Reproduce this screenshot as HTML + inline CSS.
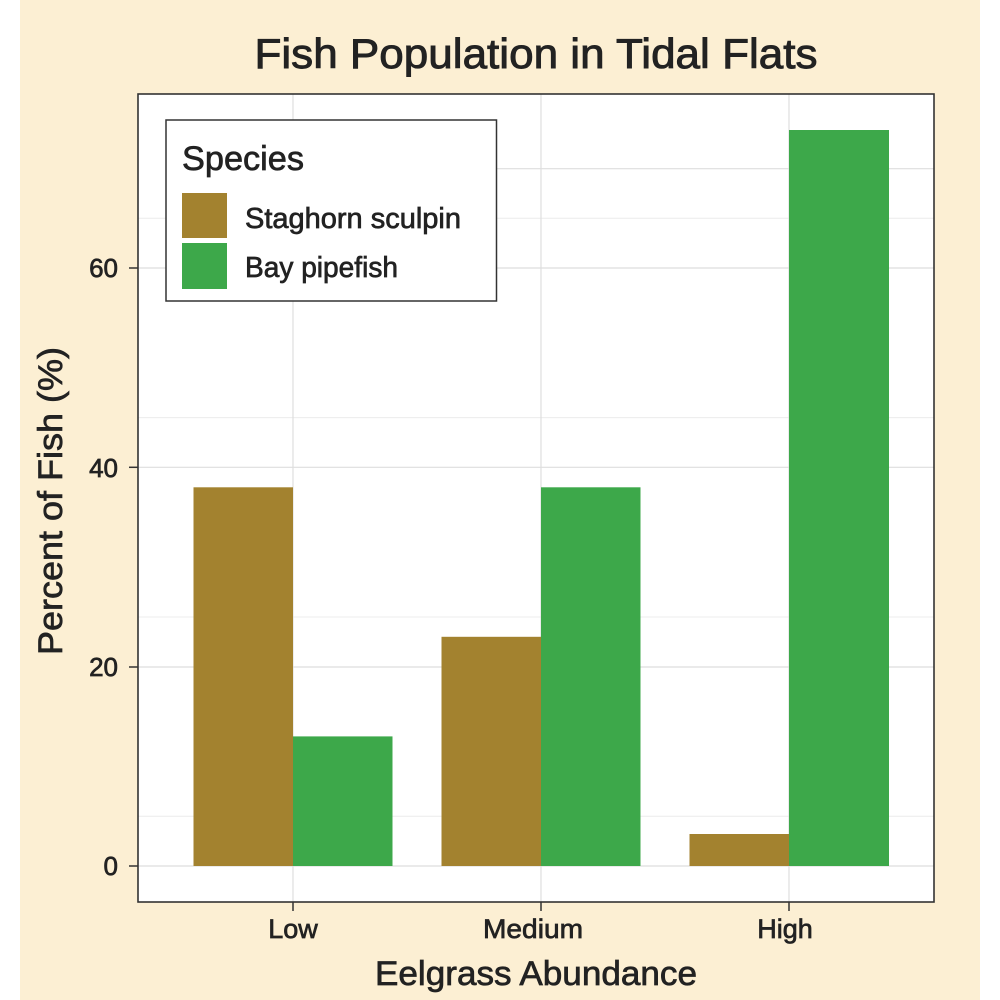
<!DOCTYPE html>
<html>
<head>
<meta charset="utf-8">
<style>
  html, body { margin: 0; padding: 0; background: #ffffff; }
  svg { display: block; }
  text { font-family: "Liberation Sans", "DejaVu Sans", sans-serif; fill: #222222; stroke: #222222; stroke-width: 0.7; paint-order: stroke; }
</style>
</head>
<body>
<svg width="1000" height="1000" viewBox="0 0 1000 1000" xmlns="http://www.w3.org/2000/svg">
  <rect x="0" y="0" width="1000" height="1000" fill="#ffffff"/>
  <rect x="20" y="0" width="960" height="1000" fill="#FCEFD3"/>

  <!-- Title -->
  <text x="536" y="68" font-size="42" text-anchor="middle" textLength="563" lengthAdjust="spacingAndGlyphs" style="stroke-width:0.9">Fish Population in Tidal Flats</text>

  <!-- Panel -->
  <rect x="138" y="94" width="796" height="808" fill="#ffffff"/>

  <!-- minor grid -->
  <g stroke="#ececec" stroke-width="1">
    <line x1="138" x2="934" y1="816.2" y2="816.2"/>
    <line x1="138" x2="934" y1="617.0" y2="617.0"/>
    <line x1="138" x2="934" y1="417.6" y2="417.6"/>
    <line x1="138" x2="934" y1="218.3" y2="218.3"/>
  </g>
  <!-- major grid -->
  <g stroke="#dedede" stroke-width="1.2">
    <line x1="138" x2="934" y1="866" y2="866"/>
    <line x1="138" x2="934" y1="667" y2="667"/>
    <line x1="138" x2="934" y1="467.3" y2="467.3"/>
    <line x1="138" x2="934" y1="268" y2="268"/>
    <line x1="168.5" x2="934" y1="168.7" y2="168.7"/>
    <line x1="293" x2="293" y1="94" y2="902"/>
    <line x1="541" x2="541" y1="94" y2="902"/>
    <line x1="789" x2="789" y1="94" y2="902"/>
  </g>

  <!-- Bars -->
  <g>
    <rect x="193.5" y="487.3" width="99.5" height="378.7" fill="#A3822F"/>
    <rect x="293" y="736.4" width="99.5" height="129.6" fill="#3DA84A"/>
    <rect x="441.5" y="636.8" width="99.5" height="229.2" fill="#A3822F"/>
    <rect x="541" y="487.3" width="99.5" height="378.7" fill="#3DA84A"/>
    <rect x="689.5" y="834" width="99.5" height="32" fill="#A3822F"/>
    <rect x="789" y="130" width="100" height="736" fill="#3DA84A"/>
  </g>

  <!-- Legend -->
  <rect x="166" y="120" width="330.5" height="181" fill="#ffffff" stroke="#333333" stroke-width="1.5"/>
  <text x="182" y="170" font-size="34" textLength="122" lengthAdjust="spacingAndGlyphs">Species</text>
  <rect x="182" y="193" width="45" height="45" fill="#A3822F"/>
  <rect x="182" y="243" width="45" height="46" fill="#3DA84A"/>
  <text x="245" y="228" font-size="29" textLength="216" lengthAdjust="spacingAndGlyphs">Staghorn sculpin</text>
  <text x="245" y="277" font-size="29" textLength="153" lengthAdjust="spacingAndGlyphs">Bay pipefish</text>

  <!-- Panel border -->
  <rect x="138" y="94" width="796" height="808" fill="none" stroke="#333333" stroke-width="1.6"/>

  <!-- ticks -->
  <g stroke="#333333" stroke-width="1.5">
    <line x1="129" x2="138" y1="866" y2="866"/>
    <line x1="129" x2="138" y1="667" y2="667"/>
    <line x1="129" x2="138" y1="467.3" y2="467.3"/>
    <line x1="129" x2="138" y1="268" y2="268"/>
    <line x1="293" x2="293" y1="902" y2="911"/>
    <line x1="541" x2="541" y1="902" y2="911"/>
    <line x1="789" x2="789" y1="902" y2="911"/>
  </g>
  <g font-size="26" text-anchor="end">
    <text x="118" y="875">0</text>
    <text x="118" y="676">20</text>
    <text x="118" y="477">40</text>
    <text x="118" y="277">60</text>
  </g>
  <g font-size="27" text-anchor="middle">
    <text x="293" y="938">Low</text>
    <text x="533" y="938" textLength="100" lengthAdjust="spacingAndGlyphs">Medium</text>
    <text x="785" y="938">High</text>
  </g>

  <!-- Axis titles -->
  <text x="536" y="985" font-size="34" text-anchor="middle" textLength="322" lengthAdjust="spacingAndGlyphs">Eelgrass Abundance</text>
  <text transform="translate(62,501) rotate(-90)" x="0" y="0" font-size="34" text-anchor="middle" textLength="308" lengthAdjust="spacingAndGlyphs">Percent of Fish (%)</text>
</svg>
</body>
</html>
